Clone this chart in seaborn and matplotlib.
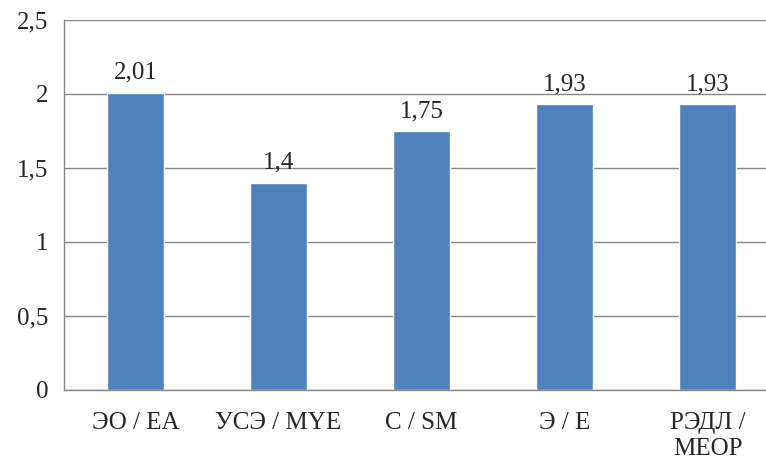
import numpy as np
import matplotlib
matplotlib.use("Agg")
import matplotlib.pyplot as plt
import seaborn as sns

# данные
categories = ["ЭО / EA", "УСЭ / MYE", "С / SM", "Э / E", "РЭДЛ /\nМЕОР"]
values = [2.01, 1.4, 1.75, 1.93, 1.93]
value_labels = ["2,01", "1,4", "1,75", "1,93", "1,93"]
y_ticks = [0, 0.5, 1, 1.5, 2, 2.5]
y_tick_labels = ["0", "0,5", "1", "1,5", "2", "2,5"]

sns.set_style("white")
plt.rcParams["font.family"] = "serif"
plt.rcParams["font.serif"] = ["Liberation Serif", "DejaVu Serif"]

fig = plt.figure(figsize=(7.66, 4.59), dpi=100)
ax = fig.add_axes([64 / 766, 69 / 459, 715 / 766, 370 / 459])

sns.barplot(x=categories, y=values, color="#4F81BD", saturation=1, width=0.4, ax=ax)

ax.set_xlim(-0.5, 4.5)
ax.set_ylim(0, 2.5)
ax.set_yticks(y_ticks)
ax.set_yticklabels(y_tick_labels, fontsize=18)
ax.yaxis.grid(True, color="#868686", linewidth=1)
ax.set_axisbelow(True)

# метки категорий и деления на границах
ax.set_xticks(range(len(categories)))
ax.set_xticklabels(categories, fontsize=18, va="top", linespacing=1.25)
ax.tick_params(axis="x", length=0, pad=16)
ax.set_xticks(np.arange(-0.5, len(categories), 1), minor=True)
ax.tick_params(axis="x", which="minor", length=7, color="#868686", width=1)
ax.tick_params(axis="y", length=7, color="#868686", width=1, pad=4)

for side in ["top", "right"]:
    ax.spines[side].set_visible(False)
for side in ["left", "bottom"]:
    ax.spines[side].set_color("#868686")
    ax.spines[side].set_linewidth(1)

for i, (v, lab) in enumerate(zip(values, value_labels)):
    ax.text(i, v + 0.06, lab, ha="center", va="bottom", fontsize=18)

fig.savefig("out.png", dpi=100)
